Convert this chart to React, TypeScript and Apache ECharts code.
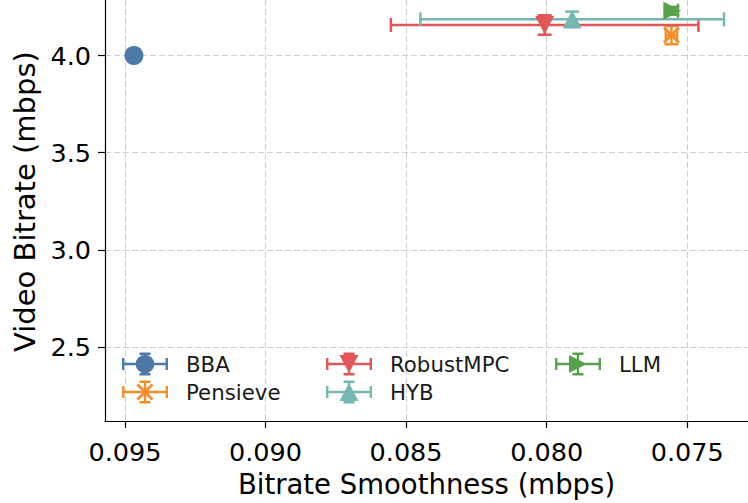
import React, { useEffect, useRef } from "react";
import * as echarts from "echarts";

const methods = ["BBA", "Pensieve", "RobustMPC", "HYB", "LLM"];
const smoothness = [0.09468, 0.07556, 0.08007, 0.07909, 0.07553];
const smoothnessErr = [0.0001, 0.0002, 0.00547, 0.0054, 0.0002];
const bitrate = [4.0, 4.105, 4.157, 4.186, 4.23];
const bitrateErr = [0.03, 0.047, 0.05, 0.04, 0.02];
const colors = ["#4e79a7", "#f28e2b", "#e15759", "#76b7b2", "#59a14f"];
const xTickLabels = ["0.095", "0.090", "0.085", "0.080", "0.075"];
const yTickLabels = ["2.5", "3.0", "3.5", "4.0"];
const legendColumns = [["BBA", "Pensieve"], ["RobustMPC", "HYB"], ["LLM"]];

const X_MIN = 0.072837;
const X_MAX = 0.095709;
const Y_MIN = 2.1195;
const Y_MAX = 4.2856;

const FONT = "DejaVu Sans";

function bar(x1: number, y1: number, x2: number, y2: number, t: number): string {
  const dx = x2 - x1, dy = y2 - y1;
  const len = Math.sqrt(dx * dx + dy * dy);
  const ux = dx / len, uy = dy / len;
  const nx = (-uy * t) / 2, ny = (ux * t) / 2;
  const f = (v: number) => v.toFixed(3);
  return `M${f(x1 - nx)},${f(y1 - ny)} L${f(x2 - nx)},${f(y2 - ny)} L${f(x2 + nx)},${f(y2 + ny)} L${f(x1 + nx)},${f(y1 + ny)} Z `;
}

function circlePath(cx: number, cy: number, r: number): string {
  return `M${cx - r},${cy} A${r},${r} 0 1 1 ${cx + r},${cy} A${r},${r} 0 1 1 ${cx - r},${cy} Z `;
}

// marker shapes in legend icon box 46x23, centre (23,11.5)
const markerShapes: Record<string, string> = {
  BBA: circlePath(23, 11.5, 9.3),
  Pensieve: bar(15.5, 4, 30.5, 19, 2.8) + bar(30.5, 4, 15.5, 19, 2.8),
  RobustMPC: "M13.5,2.5 L32.5,2.5 L23,20.5 Z ",
  HYB: "M23,2.5 L32.5,20.5 L13.5,20.5 Z ",
  LLM: "M14,2.5 L32,11.5 L14,20.5 Z ",
};

function legendIcon(name: string): string {
  const t = 2.4;
  let d = "";
  d += bar(0, 11.5, 46, 11.5, t);
  d += bar(1.2, 5.5, 1.2, 17.5, t);
  d += bar(44.8, 5.5, 44.8, 17.5, t);
  d += bar(23, 0, 23, 23, t);
  d += bar(17.5, 1.2, 28.5, 1.2, t);
  d += bar(17.5, 21.8, 28.5, 21.8, t);
  d += markerShapes[name];
  return "path://" + d;
}

const plotSymbols: Record<string, { symbol: string; size: number | number[] }> = {
  BBA: { symbol: "circle", size: 19 },
  Pensieve: { symbol: "path://" + bar(0, 0, 16, 16, 3) + bar(16, 0, 0, 16, 3), size: [17, 17] },
  RobustMPC: { symbol: "path://M0,0 L20,0 L10,19 Z", size: [19, 18] },
  HYB: { symbol: "path://M10,0 L20,19 L0,19 Z", size: [19, 18] },
  LLM: { symbol: "path://M0,0 L19,10 L0,20 Z", size: [18, 18] },
};

function fmt3(v: number) {
  return v.toFixed(3);
}

export default function App() {
  const ref = useRef<HTMLDivElement>(null);
  useEffect(() => {
    if (!ref.current) return;
    const chart = echarts.init(ref.current, null, { renderer: "svg" });

    const errData = methods.map((m, i) => [smoothness[i], bitrate[i], smoothnessErr[i], bitrateErr[i]]);

    const option: any = {
      animation: false,
      backgroundColor: "#ffffff",
      grid: { left: 105, right: -2, top: -2, bottom: 78, containLabel: false },
      xAxis: {
        type: "value",
        inverse: true,
        min: X_MIN,
        max: X_MAX,
        minInterval: 0.005,
        maxInterval: 0.005,
        name: "Bitrate Smoothness (mbps)",
        nameLocation: "middle",
        nameGap: 44,
        nameTextStyle: { fontFamily: FONT, fontSize: 27.5, color: "#000" },
        axisLine: { show: true, onZero: false, lineStyle: { color: "#000", width: 1.2 } },
        axisTick: { show: true, length: 7, lineStyle: { color: "#000", width: 1.2 } },
        axisLabel: {
          showMinLabel: false,
          showMaxLabel: false,
          margin: 18,
          fontFamily: FONT,
          fontSize: 25.5,
          color: "#000",
          formatter: (v: number) => (xTickLabels.includes(fmt3(v)) ? fmt3(v) : ""),
        },
        splitLine: {
          show: true,
          showMinLine: false,
          showMaxLine: false,
          lineStyle: { color: "#cfcfcf", type: [6, 3], width: 1 },
        },
      },
      yAxis: {
        type: "value",
        min: Y_MIN,
        max: Y_MAX,
        minInterval: 0.5,
        maxInterval: 0.5,
        name: "Video Bitrate (mbps)",
        nameLocation: "middle",
        nameGap: 63,
        nameTextStyle: { fontFamily: FONT, fontSize: 29, color: "#000", padding: [0, 0, 0, 18] },
        axisLine: { show: true, onZero: false, lineStyle: { color: "#000", width: 1.2 } },
        axisTick: { show: true, length: 7, lineStyle: { color: "#000", width: 1.2 } },
        axisLabel: {
          showMinLabel: false,
          showMaxLabel: false,
          margin: 14,
          fontFamily: FONT,
          fontSize: 25.5,
          color: "#000",
          formatter: (v: number) => (yTickLabels.includes(v.toFixed(1)) ? v.toFixed(1) : ""),
        },
        splitLine: {
          show: true,
          showMinLine: false,
          showMaxLine: false,
          lineStyle: { color: "#cfcfcf", type: [6, 3], width: 1 },
        },
      },
      legend: legendColumns.map((col, ci) => ({
        orient: "vertical",
        left: [122, 326, 555][ci],
        top: 352.5,
        padding: 0,
        itemWidth: 46,
        itemHeight: 23,
        itemGap: 5,
        selectedMode: false,
        textStyle: { fontFamily: FONT, fontSize: 21.3, color: "#1a1a1a", lineHeight: 23, padding: [0, 0, 0, 13] },
        data: col.map((n) => ({ name: n, icon: legendIcon(n), itemStyle: { color: colors[methods.indexOf(n)], borderWidth: 0 } })),
      })),
      series: [
        {
          type: "custom",
          name: "errorbars",
          z: 2,
          clip: false,
          data: errData,
          encode: { x: 0, y: 1 },
          renderItem: (params: any, api: any) => {
            const x = api.value(0), y = api.value(1), xe = api.value(2), ye = api.value(3);
            const L = api.coord([x - xe, y]);
            const R = api.coord([x + xe, y]);
            const T = api.coord([x, y + ye]);
            const B = api.coord([x, y - ye]);
            const color = colors[params.dataIndex];
            const cap = 7;
            const style = { stroke: color, lineWidth: 2.5, fill: "none" };
            const ln = (x1: number, y1: number, x2: number, y2: number) => ({
              type: "line",
              shape: { x1, y1, x2, y2 },
              style,
            });
            return {
              type: "group",
              children: [
                ln(L[0], L[1], R[0], R[1]),
                ln(L[0], L[1] - cap, L[0], L[1] + cap),
                ln(R[0], R[1] - cap, R[0], R[1] + cap),
                ln(T[0], T[1], B[0], B[1]),
                ln(T[0] - cap, T[1], T[0] + cap, T[1]),
                ln(B[0] - cap, B[1], B[0] + cap, B[1]),
              ],
            };
          },
        },
        ...methods.map((m, i) => ({
          type: "scatter",
          name: m,
          z: 3,
          symbol: plotSymbols[m].symbol,
          symbolSize: plotSymbols[m].size,
          itemStyle: { color: colors[i], opacity: 1, borderWidth: 0 },
          data: [[smoothness[i], bitrate[i]]],
        })),
      ],
    };
    chart.setOption(option);
    return () => chart.dispose();
  }, []);
  return (
    <div
      ref={ref}
      style={{ position: "fixed", left: 0, top: 0, width: 748, height: 503, background: "#fff" }}
    />
  );
}
